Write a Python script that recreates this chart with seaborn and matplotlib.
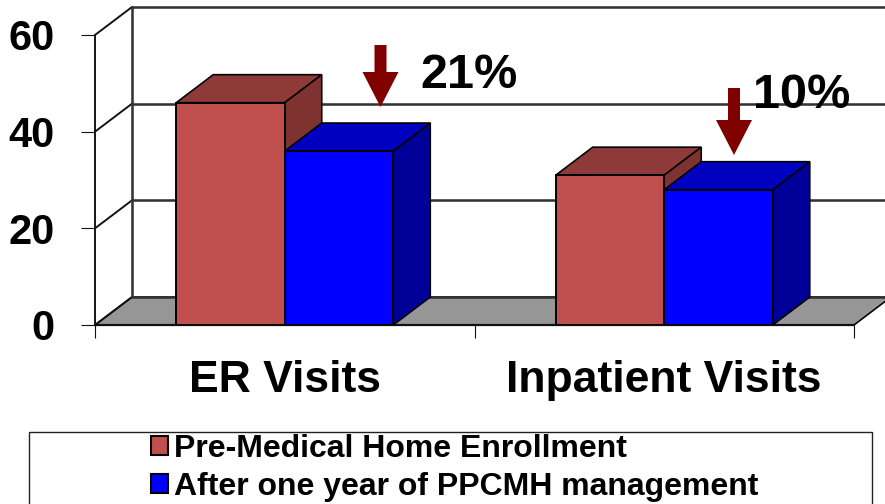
import matplotlib
matplotlib.use("Agg")
import matplotlib.pyplot as plt
from matplotlib.patches import Polygon, Rectangle, FancyArrow
from matplotlib.transforms import Affine2D
import pandas as pd
import seaborn as sns

categories = ["ER Visits", "Inpatient Visits"]
series_names = ["Pre-Medical Home Enrollment", "After one year of PPCMH management"]
pre_values = [46, 31]
post_values = [36, 28]
y_ticks = [0, 20, 40, 60]
changes = ["21%", "10%"]

front_colors = ["#C0504D", "#0000FF"]
top_colors = ["#8E3A39", "#0000C0"]
side_colors = ["#7F3331", "#000099"]
FLOOR = "#969696"
ARROW = "#800000"
FONT = "Liberation Sans"
W, H = 885, 504
DX_PX, DY_PX = 37, 28
LINE = 1.15

sns.set_theme(style="white")
plt.rcParams["font.family"] = [FONT, "DejaVu Sans"]
plt.rcParams["font.weight"] = "bold"

fig = plt.figure(figsize=(W / 100, H / 100), dpi=100)
ax = fig.add_axes([95 / W, (H - 325) / H, 759 / W, 290 / H])

df = pd.DataFrame({
    "category": categories * 2,
    "series": [series_names[0]] * 2 + [series_names[1]] * 2,
    "value": pre_values + post_values,
})
sns.barplot(data=df, x="category", y="value", hue="series", hue_order=series_names,
            palette=front_colors, width=0.572, gap=0, saturation=1, legend=False,
            edgecolor="black", linewidth=LINE * 1.2, errorbar=None, ax=ax)
ax.set_xlim(-0.5, 1.5)
ax.set_ylim(0, 60)
ax.set_xlabel("")
ax.set_ylabel("")
sns.despine(ax=ax, left=True, bottom=True, right=True, top=True)

ddx = DX_PX * 2 / 759
ddy = DY_PX * 60 / 290
x_end = 1.6

# floor and back wall
ax.add_patch(Polygon([(-0.5, 0), (-0.5 + ddx, ddy), (x_end + ddx, ddy), (1.5 + ddx, ddy), (1.5, 0)],
                     closed=True, facecolor=FLOOR, edgecolor="black", lw=LINE, zorder=0.4, clip_on=False))
for v in y_ticks:
    ax.plot([-0.5, -0.5 + ddx], [v, v + ddy], color="#111111", lw=LINE * 1.2, zorder=0.6, clip_on=False)
    ax.plot([-0.5 + ddx, x_end], [v + ddy, v + ddy], color="#333333", lw=LINE * 1.6, zorder=0.6, clip_on=False)
ax.plot([-0.5, -0.5], [0, 60], color="#111111", lw=LINE * 1.2, zorder=0.6, clip_on=False)
ax.plot([-0.5 + ddx, -0.5 + ddx], [ddy, 60 + ddy], color="#333333", lw=LINE * 1.6, zorder=0.6, clip_on=False)
ax.plot([-0.5, 1.5], [0, 0], color="#111111", lw=LINE * 1.4, zorder=0.6, clip_on=False)

# 3-D faces built from the bars that seaborn drew
n = len(categories)
for i, bar in enumerate(ax.patches[:2 * n]):
    s = i // n
    x0, w, h = bar.get_x(), bar.get_width(), bar.get_height()
    x1 = x0 + w
    z = 2 + 2 * s
    bar.set_zorder(z + 1)
    ax.add_patch(Polygon([(x0, h), (x0 + ddx, h + ddy), (x1 + ddx, h + ddy), (x1, h)], closed=True,
                         facecolor=top_colors[s], edgecolor="black", lw=LINE, zorder=z, clip_on=False))
    ax.add_patch(Polygon([(x1, 0), (x1 + ddx, ddy), (x1 + ddx, h + ddy), (x1, h)], closed=True,
                         facecolor=side_colors[s], edgecolor="black", lw=LINE, zorder=z, clip_on=False))

# ticks
ax.set_yticks(y_ticks)
ax.tick_params(axis="y", left=True, length=10, width=0.8, color="#111111", pad=19, labelsize=30)
ax.set_xticks([-0.5, 0.5, 1.5], minor=True)
ax.tick_params(axis="x", which="minor", bottom=True, length=9.5, width=0.8, color="#111111")
ax.tick_params(axis="x", which="major", bottom=False, length=0, pad=25, labelsize=32)
for lab in ax.get_xticklabels() + ax.get_yticklabels():
    lab.set_fontweight("bold")
    lab.set_color("black")
    lab.set_fontfamily(FONT)

# pixel-space transform for annotations
px = Affine2D().scale(1 / W, -1 / H).translate(0, 1) + fig.transFigure

for (x, y), t in zip([(420, 76), (753, 96)], changes):
    fig.text(x, y, t, transform=px, fontsize=35, fontweight="bold", color="black",
             ha="left", va="center", zorder=10)
for cx, y0, y1 in [(380.5, 45, 107), (734, 88, 155)]:
    fig.add_artist(FancyArrow(cx, y0, 0, y1 - y0, width=12, head_width=36, head_length=35,
                              length_includes_head=True, facecolor=ARROW, edgecolor="none",
                              transform=px, zorder=10))

# legend
fig.add_artist(Rectangle((29, 432), 843, 85, facecolor="white", edgecolor="#222222", lw=1.0,
                         transform=px, zorder=8))
handles = [Rectangle((0, 0), 1, 1, facecolor=c, edgecolor="black", lw=1.5) for c in front_colors]
leg = fig.legend(handles, series_names, loc="upper left", bbox_to_anchor=(151, 434),
                 bbox_transform=px, frameon=False, fontsize=23, handlelength=0.52,
                 handleheight=0.52, handletextpad=0.2, labelspacing=0.24, borderpad=0, borderaxespad=0)
leg.set_zorder(9)
for t in leg.get_texts():
    t.set_fontweight("bold")
    t.set_color("black")

fig.savefig("out.png", dpi=100)
